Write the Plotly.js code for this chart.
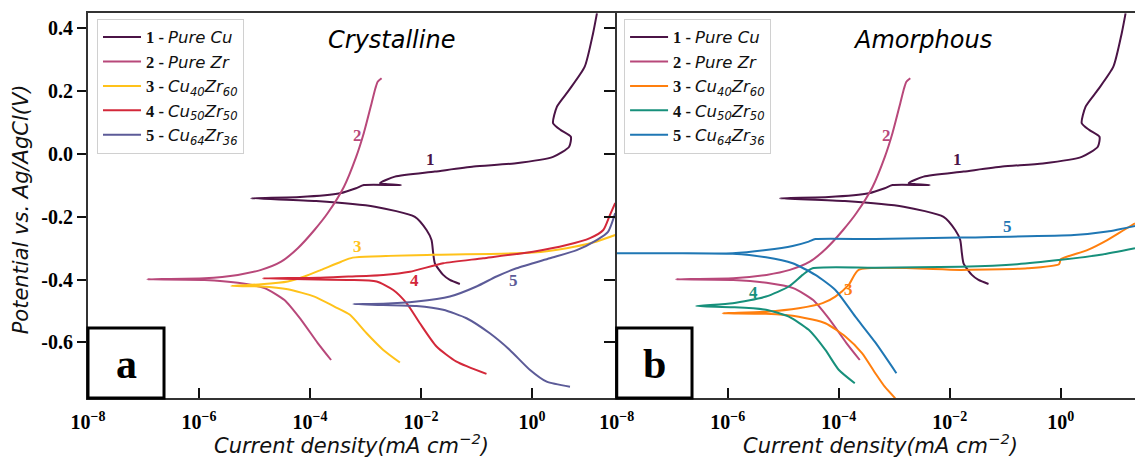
<!DOCTYPE html>
<html>
<head>
<meta charset="utf-8">
<script src="https://cdn.plot.ly/plotly-3.0.1.min.js"></script>
<style>
  html, body { margin: 0; padding: 0; background: #fff; }
  #chart { width: 1135px; height: 461px; }
</style>
</head>
<body>
<div id="chart"></div>
<script>
// Potentiodynamic polarisation curves: log10 of current density (mA cm^-2) and potential (V vs Ag/AgCl).
// Each curve runs from the end of the cathodic branch, through Ecorr, to the end of the anodic branch.

// Pure Cu (same in both panels)
const cuLogI = [-1.30, -1.48, -1.60, -1.75, -1.78, -1.81, -1.90, -2.11, -2.83, -3.89, -5.06,
                -4.18, -3.46, -3.17, -3.03, -2.36, -2.74, -2.47, -1.75, -1.05, -0.32, 0.38,
                0.67, 0.70, 0.52, 0.38, 0.45, 0.67, 0.95, 1.10, 1.17];
const cuE    = [-0.414, -0.401, -0.385, -0.348, -0.316, -0.274, -0.242, -0.200, -0.168, -0.150, -0.141,
                -0.137, -0.125, -0.109, -0.099, -0.099, -0.093, -0.072, -0.056, -0.040, -0.030, -0.009,
                0.023, 0.055, 0.076, 0.098, 0.151, 0.204, 0.278, 0.384, 0.448];

// Pure Zr (same in both panels)
const zrLogI = [-3.62, -3.86, -4.16, -4.46, -4.82, -5.30, -5.90, -6.93, -5.90, -5.30, -4.88,
                -4.52, -4.22, -3.92, -3.68, -3.39, -3.17, -3.03, -2.89, -2.82, -2.78, -2.71];
const zrE    = [-0.656, -0.602, -0.528, -0.465, -0.427, -0.410, -0.401, -0.399, -0.396, -0.385, -0.369,
                -0.343, -0.300, -0.242, -0.188, -0.105, -0.010, 0.067, 0.162, 0.210, 0.230, 0.241];

// Crystalline alloys
const cr4060LogI = [-2.38, -2.68, -2.98, -3.28, -3.56, -3.92, -4.40, -4.88, -5.42,
                    -4.88, -4.40, -4.10, -3.80, -3.44, -3.23, -1.78, 0.02, 0.625, 1.10, 1.50];
const cr4060E    = [-0.664, -0.624, -0.571, -0.512, -0.486, -0.454, -0.431, -0.422, -0.420,
                    -0.415, -0.406, -0.390, -0.369, -0.343, -0.330, -0.321, -0.314, -0.300, -0.282, -0.258];

const cr5050LogI = [-0.82, -1.36, -1.72, -2.02, -2.26, -2.50, -2.80, -3.28, -3.85, -4.85,
                    -3.85, -3.28, -2.68, -2.20, -1.60, -0.88, 0.02, 0.625, 1.045, 1.285, 1.40, 1.50];
const cr5050E    = [-0.700, -0.661, -0.613, -0.539, -0.475, -0.433, -0.406, -0.401, -0.400, -0.396,
                    -0.394, -0.390, -0.385, -0.375, -0.348, -0.332, -0.311, -0.290, -0.268, -0.242, -0.196, -0.156];

const cr6436LogI = [0.685, 0.265, -0.04, -0.40, -0.76, -1.18, -1.60, -2.08, -2.68, -3.22,
                    -2.68, -2.08, -1.48, -1.00, -0.64, -0.28, 0.32, 0.806, 1.166, 1.37, 1.50];
const cr6436E    = [-0.741, -0.725, -0.687, -0.624, -0.571, -0.523, -0.496, -0.484, -0.481, -0.478,
                    -0.477, -0.470, -0.454, -0.422, -0.390, -0.364, -0.332, -0.306, -0.274, -0.248, -0.188];

// Amorphous alloys
const am4060LogI = [-2.98, -3.17, -3.34, -3.58, -3.88, -4.24, -4.72, -5.31, -6.09,
                    -5.31, -4.72, -4.29, -4.06, -3.82, -3.64, -1.80, -0.60, -0.03, 0.004, 0.48, 0.84, 1.14, 1.34];
const am4060E    = [-0.778, -0.741, -0.698, -0.634, -0.581, -0.539, -0.518, -0.509, -0.507,
                    -0.502, -0.491, -0.475, -0.454, -0.417, -0.369, -0.369, -0.364, -0.351, -0.335, -0.306, -0.274, -0.242, -0.221];

const am5050LogI = [-3.71, -4.00, -4.24, -4.54, -4.90, -5.31, -5.91, -6.57,
                    -5.91, -5.31, -4.90, -4.65, -4.47, -3.34, -1.80, -0.78, 0.004, 0.72, 1.34];
const am5050E    = [-0.730, -0.687, -0.624, -0.560, -0.518, -0.496, -0.488, -0.484,
                    -0.475, -0.454, -0.422, -0.385, -0.364, -0.362, -0.359, -0.351, -0.337, -0.321, -0.300];

const am6436LogI = [-2.96, -3.34, -3.70, -4.06, -4.42, -4.83, -5.31, -5.91, -7.00, -8.30,
                    -7.00, -5.91, -5.31, -4.83, -4.54, -4.42, -3.34, -1.80, 0.24, 0.84, 1.34];
const am6436E    = [-0.698, -0.600, -0.518, -0.433, -0.385, -0.348, -0.329, -0.318, -0.316, -0.316,
                    -0.316, -0.316, -0.306, -0.293, -0.279, -0.271, -0.271, -0.266, -0.258, -0.247, -0.229];

// Axis ticks
const xTickVals = [1e-8, 1e-6, 1e-4, 1e-2, 1];
const xTickText = ['10<sup>\u22128</sup>', '10<sup>\u22126</sup>', '10<sup>\u22124</sup>', '10<sup>\u22122</sup>', '10<sup>0</sup>'];
const yTickVals = [0.4, 0.2, 0.0, -0.2, -0.4, -0.6];
const yTickText = ['0.4', '0.2', '0.0', '-0.2', '-0.4', '-0.6'];

// Legend names
const SERIF = 'Liberation Serif';
const SANS = 'DejaVu Sans';
function lbl(num, body) {
  return '<span style="font-family:Liberation Serif;font-weight:bold;font-style:normal">' + num +
         ' - </span><i>' + body + '</i>';
}
const seriesNames = [
  lbl(1, 'Pure Cu'),
  lbl(2, 'Pure Zr'),
  lbl(3, 'Cu<sub>40</sub>Zr<sub>60</sub>'),
  lbl(4, 'Cu<sub>50</sub>Zr<sub>50</sub>'),
  lbl(5, 'Cu<sub>64</sub>Zr<sub>36</sub>')
];

const colCu = '#4b1446';
const colZr = '#b8487a';
const crColors = ['#ffc21a', '#d3283a', '#5c5b98'];
const amColors = ['#ff7f0e', '#17907b', '#1f77b4'];

const pow10 = a => a.map(v => Math.pow(10, v));

function curve(logI, E, name, color, xa, ya, legendId) {
  return {
    x: pow10(logI), y: E, name: name, type: 'scatter', mode: 'lines',
    line: { color: color, width: 2, shape: 'spline', smoothing: 0.6 },
    xaxis: xa, yaxis: ya, legend: legendId, hoverinfo: 'skip'
  };
}

const traces = [
  curve(cuLogI, cuE, seriesNames[0], colCu, 'x', 'y', 'legend'),
  curve(zrLogI, zrE, seriesNames[1], colZr, 'x', 'y', 'legend'),
  curve(cr4060LogI, cr4060E, seriesNames[2], crColors[0], 'x', 'y', 'legend'),
  curve(cr5050LogI, cr5050E, seriesNames[3], crColors[1], 'x', 'y', 'legend'),
  curve(cr6436LogI, cr6436E, seriesNames[4], crColors[2], 'x', 'y', 'legend'),
  curve(cuLogI, cuE, seriesNames[0], colCu, 'x2', 'y2', 'legend2'),
  curve(zrLogI, zrE, seriesNames[1], colZr, 'x2', 'y2', 'legend2'),
  curve(am4060LogI, am4060E, seriesNames[2], amColors[0], 'x2', 'y2', 'legend2'),
  curve(am5050LogI, am5050E, seriesNames[3], amColors[1], 'x2', 'y2', 'legend2'),
  curve(am6436LogI, am6436E, seriesNames[4], amColors[2], 'x2', 'y2', 'legend2')
];

const yRange = [-0.777, 0.449];

function xAxis(domain, range, anchor) {
  return {
    type: 'log', domain: domain, range: range, anchor: anchor,
    tickmode: 'array', tickvals: xTickVals, ticktext: xTickText,
    tickfont: { family: SERIF, size: 20, color: '#000', weight: 'bold' },
    ticklabelstandoff: 5,
    ticks: 'inside', ticklen: 10, tickwidth: 2, tickcolor: '#111',
    showline: true, linecolor: '#333', linewidth: 2, mirror: true,
    showgrid: false, zeroline: false
  };
}

const legendBase = {
  xanchor: 'left', yanchor: 'top', y: 0.985,
  bgcolor: 'rgba(255,255,255,0.85)', bordercolor: '#d0d0d0', borderwidth: 1,
  font: { family: SANS, size: 16.5, color: '#111' },
  itemwidth: 38, tracegroupgap: 0
};

function curveLabel(text, logX, y, color, xa, ya) {
  return {
    text: '<b>' + text + '</b>', x: logX, y: y, xref: xa, yref: ya, showarrow: false,
    xanchor: 'center', yanchor: 'middle',
    font: { family: SERIF, size: 17, color: color }
  };
}

function paperText(text, x, y, font, extra) {
  return Object.assign({
    text: text, x: x, y: y, xref: 'paper', yref: 'paper', showarrow: false,
    xanchor: 'center', yanchor: 'middle', font: font
  }, extra || {});
}

const titleFont = { family: SANS, size: 24, color: '#000' };
const axisTitleFont = { family: SANS, size: 21, color: '#111' };
const letterFont = { family: SERIF, size: 42, color: '#000' };

const layout = {
  width: 1135, height: 461,
  margin: { l: 88, r: 0, t: 13, b: 63, pad: 0 },
  paper_bgcolor: '#fff', plot_bgcolor: '#fff',
  showlegend: true,
  xaxis: xAxis([0, 0.5033], [-8, 1.495], 'y'),
  xaxis2: xAxis([0.505, 1], [-8, 1.34], 'y2'),
  yaxis: {
    range: yRange, anchor: 'x',
    tickmode: 'array', tickvals: yTickVals, ticktext: yTickText,
    tickfont: { family: SERIF, size: 20, color: '#000', weight: 'bold' },
    ticks: 'outside', ticklen: 9, tickwidth: 2, tickcolor: '#111',
    showline: true, linecolor: '#333', linewidth: 2, mirror: true,
    showgrid: false, zeroline: false
  },
  yaxis2: {
    range: yRange, anchor: 'x2',
    tickmode: 'array', tickvals: yTickVals, showticklabels: false,
    ticks: 'outside', ticklen: 11, tickwidth: 2, tickcolor: '#111',
    showline: true, linecolor: '#333', linewidth: 2, mirror: false,
    showgrid: false, zeroline: false
  },
  legend: Object.assign({}, legendBase, { x: 0.0086 }),
  legend2: Object.assign({}, legendBase, { x: 0.512 }),
  shapes: [
    { type: 'rect', xref: 'paper', yref: 'paper', x0: 0, x1: 0.0726, y0: 0, y1: 0.1818,
      line: { color: '#000', width: 3 }, fillcolor: '#fff', layer: 'above' },
    { type: 'rect', xref: 'paper', yref: 'paper', x0: 0.505, x1: 0.5769, y0: 0, y1: 0.1818,
      line: { color: '#000', width: 3 }, fillcolor: '#fff', layer: 'above' }
  ],
  annotations: [
    // panel titles
    paperText('<i>Crystalline</i>', 0.2903, 0.930, titleFont),
    paperText('<i>Amorphous</i>', 0.7966, 0.930, titleFont),
    // axis titles
    paperText('<i>Current density(mA cm<sup>\u22122</sup>)</i>', 0.2512, -0.12, axisTitleFont),
    paperText('<i>Current density(mA cm<sup>\u22122</sup>)</i>', 0.7569, -0.12, axisTitleFont),
    paperText('<i>Potential vs. Ag/AgCl(V)</i>', -0.064, 0.49, axisTitleFont, { textangle: -90 }),
    // panel letters
    paperText('<b>a</b>', 0.0363, 0.088, letterFont),
    paperText('<b>b</b>', 0.5406, 0.088, letterFont),
    // curve numbers, crystalline
    curveLabel('1', -1.82, -0.019, colCu, 'x', 'y'),
    curveLabel('2', -3.14, 0.060, colZr, 'x', 'y'),
    curveLabel('3', -3.14, -0.296, crColors[0], 'x', 'y'),
    curveLabel('4', -2.11, -0.404, crColors[1], 'x', 'y'),
    curveLabel('5', -0.34, -0.404, crColors[2], 'x', 'y'),
    // curve numbers, amorphous
    curveLabel('1', -1.86, -0.019, colCu, 'x2', 'y2'),
    curveLabel('2', -3.14, 0.060, colZr, 'x2', 'y2'),
    curveLabel('3', -3.82, -0.430, amColors[0], 'x2', 'y2'),
    curveLabel('4', -5.53, -0.442, amColors[1], 'x2', 'y2'),
    curveLabel('5', -0.96, -0.232, amColors[2], 'x2', 'y2')
  ]
};

Plotly.newPlot('chart', traces, layout, { staticPlot: true, displayModeBar: false });
</script>
</body>
</html>
